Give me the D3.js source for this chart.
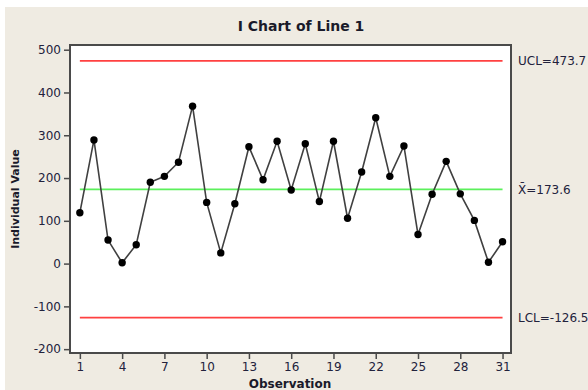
<!DOCTYPE html>
<html>
<head>
<meta charset="utf-8">
<script src="https://cdn.jsdelivr.net/npm/d3@7"></script>
<style>
  body { margin: 0; background: #fff; }
  svg { display: block; }
</style>
</head>
<body>
<div id="chart"></div>
<script>
// I chart values
var observations = d3.range(1, 32);
var individualValues = [119, 289, 55, 2, 44, 190, 204, 237, 368, 143, 25, 140, 273, 196, 286, 172,
                        280, 145, 286, 106, 214, 341, 204, 275, 68, 162, 239, 163, 101, 3, 51];
var xTicks = [1, 4, 7, 10, 13, 16, 19, 22, 25, 28, 31];
var yTicks = [-200, -100, 0, 100, 200, 300, 400, 500];
var limitNames = ["UCL", "X", "LCL"];
var limitValues = [473.7, 173.6, -126.5];

var width = 588, height = 390;
var frame = {left: 70, top: 45, right: 511, bottom: 353};

var svg = d3.select("#chart").append("svg")
    .attr("width", width)
    .attr("height", height);

// beige panel
svg.append("rect")
    .attr("x", 5).attr("y", 7)
    .attr("width", width - 5).attr("height", height - 7)
    .attr("fill", "#efebe2");

var x = d3.scaleLinear().domain([0.3, 31.6]).range([frame.left, frame.right]);
var y = d3.scaleLinear().domain([-209, 511]).range([frame.bottom, frame.top]);

svg.append("rect")
    .attr("x", frame.left).attr("y", frame.top)
    .attr("width", frame.right - frame.left).attr("height", frame.bottom - frame.top)
    .attr("fill", "#fff");

var limitColors = ["#ff4040", "#5cf05c", "#ff4040"];
limitValues.forEach(function (v, i) {
    svg.append("line")
        .attr("x1", x(1)).attr("x2", x(31))
        .attr("y1", y(v)).attr("y2", y(v))
        .attr("stroke", limitColors[i])
        .attr("stroke-width", 1.8);
});

var pts = observations.map(function (o, i) { return {o: o, v: individualValues[i]}; });

svg.append("path")
    .datum(pts)
    .attr("fill", "none")
    .attr("stroke", "#404040")
    .attr("stroke-width", 1.6)
    .attr("d", d3.line().x(function (d) { return x(d.o); }).y(function (d) { return y(d.v); }));

svg.selectAll(".pt")
    .data(pts)
    .enter().append("circle")
    .attr("class", "pt")
    .attr("cx", function (d) { return x(d.o); })
    .attr("cy", function (d) { return y(d.v); })
    .attr("r", 3.7)
    .attr("fill", "#000");

// frame
svg.append("rect")
    .attr("x", frame.left).attr("y", frame.top)
    .attr("width", frame.right - frame.left).attr("height", frame.bottom - frame.top)
    .attr("fill", "none")
    .attr("stroke", "#4a4a4a")
    .attr("stroke-width", 2);

var tickFont = "DejaVu Sans, sans-serif";
var textColor = "#22223c";

var yAxis = svg.append("g")
    .attr("transform", "translate(" + (frame.left - 1) + ",0)")
    .call(d3.axisLeft(y).tickValues(yTicks).tickSize(5).tickPadding(3)
        .tickFormat(function (d) { return String(d); }));
var xAxis = svg.append("g")
    .attr("transform", "translate(0," + (frame.bottom + 1) + ")")
    .call(d3.axisBottom(x).tickValues(xTicks).tickSize(5).tickPadding(3));

[xAxis, yAxis].forEach(function (a) {
    a.select(".domain").remove();
    a.selectAll(".tick line").attr("stroke", "#4a4a4a").attr("stroke-width", 1.5);
    a.selectAll(".tick text")
        .attr("font-family", tickFont)
        .attr("font-size", 12)
        .attr("fill", textColor);
});

// limit labels
limitValues.forEach(function (v, i) {
    var t = svg.append("text")
        .attr("x", 518)
        .attr("y", y(v))
        .attr("dy", "0.35em")
        .attr("font-family", tickFont)
        .attr("font-size", 12)
        .attr("fill", textColor);
    if (limitNames[i] === "X") {
        t.text("X\u0304=" + v.toFixed(1));
    } else {
        t.text(limitNames[i] + "=" + v.toFixed(1));
    }
});

svg.append("text")
    .attr("x", 301).attr("y", 31)
    .attr("text-anchor", "middle")
    .attr("font-family", tickFont)
    .attr("font-weight", "bold")
    .attr("font-size", 14)
    .attr("fill", "#1a1a2a")
    .text("I Chart of Line 1");

svg.append("text")
    .attr("transform", "translate(19," + ((frame.top + frame.bottom) / 2) + ") rotate(-90)")
    .attr("text-anchor", "middle")
    .attr("font-family", tickFont)
    .attr("font-weight", "bold")
    .attr("font-size", 11)
    .attr("fill", "#1a1a2a")
    .text("Individual Value");

svg.append("text")
    .attr("x", 290).attr("y", 388)
    .attr("text-anchor", "middle")
    .attr("font-family", tickFont)
    .attr("font-weight", "bold")
    .attr("font-size", 12)
    .attr("fill", "#1a1a2a")
    .text("Observation");
</script>
</body>
</html>
